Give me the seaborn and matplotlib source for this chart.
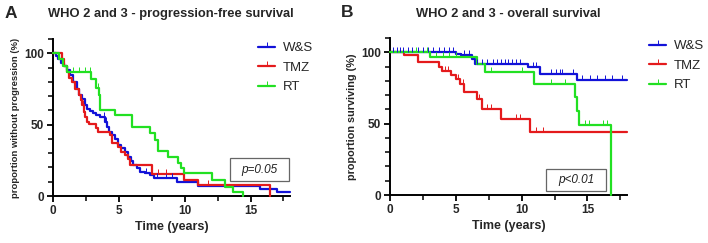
import numpy as np
import pandas as pd
import matplotlib
matplotlib.use("Agg")
import matplotlib.pyplot as plt
import seaborn as sns
from matplotlib.ticker import MultipleLocator
from matplotlib.lines import Line2D

groups = ["W&S", "TMZ", "RT"]
colori = {"W&S": "#1212d8", "TMZ": "#e41a1c", "RT": "#22e022"}

# progression-free survival, step start times (years) and levels (%)
pfs_ws_t = [0, 0.2, 0.4, 0.6, 0.8, 1.05, 1.3, 1.55, 1.8, 2.0, 2.2, 2.4, 2.55, 2.8, 3.05, 3.3,
            3.55, 3.95, 4.1, 4.25, 4.5, 4.7, 4.95, 5.2, 5.45, 5.7, 5.9, 6.1, 6.35, 6.6, 7.0,
            7.4, 7.7, 9.4, 11.0, 15.7, 17.0, 18]
pfs_ws_s = [100, 98, 96, 93.5, 91, 88, 85, 80, 75, 71, 68, 64, 61, 59.5, 58, 56.5,
            55.5, 52, 48, 45, 42.5, 40, 36, 33.5, 31, 27.5, 24.5, 22, 19.5, 17, 16,
            15, 12.5, 10, 7.2, 5, 2.5, 2.5]
pfs_tmz_t = [0, 0.65, 0.85, 1.05, 1.25, 1.45, 1.7, 1.95, 2.1, 2.2, 2.35, 2.45, 2.6, 2.7, 3.3,
             3.45, 4.3, 4.5, 4.97, 5.2, 5.5, 5.72, 5.85, 7.54, 9.97, 11.0, 16.5]
pfs_tmz_s = [100, 96, 91, 87, 83, 80, 75, 70.5, 67, 63.5, 59, 55.5, 52, 50.5, 47.3,
             45, 42.7, 36.8, 34, 31, 28.5, 26, 21.5, 15.5, 11.2, 8, 0]
pfs_rt_t = [0, 0.45, 0.75, 1.05, 2.9, 3.3, 3.5, 3.6, 4.7, 6.0, 7.4, 7.75, 7.95, 8.7, 9.5,
            9.7, 9.95, 12.1, 13.05, 13.7, 14.4]
pfs_rt_s = [100, 96, 91, 87, 82, 76, 70.5, 60, 56.5, 48, 44, 39, 31.5, 27, 23,
            19.5, 16, 11, 6.5, 3, 0]

pfs_ws_cens = [3.9, 4.05, 7.1, 7.9, 8.6, 9.0]
pfs_tmz_cens = [2.3, 8.0, 8.6, 11.8]
pfs_rt_cens = [1.5, 2.0, 2.4, 2.8, 3.45]

# overall survival
os_ws_t = [0, 5.05, 5.4, 6.2, 6.45, 10.5, 11.4, 14.2, 18]
os_ws_s = [100, 99, 98, 95.5, 92, 89.5, 85, 80.5, 80.5]
os_tmz_t = [0, 1.1, 2.1, 3.75, 3.95, 4.65, 5.0, 5.35, 5.65, 6.6, 7.0, 8.4, 10.65, 18]
os_tmz_s = [100, 98, 93.5, 90, 87, 84, 81, 77.5, 72, 67, 60, 53, 44, 44]
os_rt_t = [0, 3.05, 6.6, 7.2, 10.95, 14.05, 14.2, 14.35, 16.8]
os_rt_s = [100, 97, 92, 86, 78, 69, 59, 49, 0]

os_ws_cens = [0.2, 0.5, 0.8, 1.0, 1.4, 1.7, 2.1, 2.5, 2.9, 3.3, 3.7, 4.1, 4.5, 4.8, 5.6, 6.0,
              6.6, 7.0, 7.4, 7.8, 8.1, 8.4, 8.7, 9.0, 9.3, 9.6, 9.9, 10.9, 11.1,
              12.2, 12.6, 12.9, 13.1, 13.9, 14.6, 15.2, 15.7, 16.3, 16.9, 17.6]
os_tmz_cens = [4.2, 4.4, 5.2, 5.55, 6.8, 7.4, 7.7, 9.6, 9.85, 11.1, 11.6]
os_rt_cens = [2.0, 2.8, 3.5, 4.0, 4.5, 5.0, 7.7, 10.0, 12.2, 13.3, 14.8, 15.1, 16.2, 16.5]


def tabella(tt, ss):
    righe = []
    for g, t, s in zip(groups, tt, ss):
        righe.append(pd.DataFrame({"time": t, "surv": s, "group": g}))
    return pd.concat(righe, ignore_index=True)


def livello(t, s, c):
    idx = np.searchsorted(np.array(t), np.array(c), side="right") - 1
    return np.array(s)[idx]


sns.set_theme(style="ticks")
plt.rcParams["font.family"] = ["Liberation Sans", "DejaVu Sans"]

fig = plt.figure(figsize=(7.08, 2.43), dpi=100)
axA = fig.add_axes([0.0749, 0.1934, 0.3347, 0.6461])
axB = fig.add_axes([0.5508, 0.1975, 0.3347, 0.6461])

pannelli = [
    (axA, [pfs_ws_t, pfs_tmz_t, pfs_rt_t], [pfs_ws_s, pfs_tmz_s, pfs_rt_s],
     [pfs_ws_cens, pfs_tmz_cens, pfs_rt_cens], "proportion without progression (%)", 6.8,
     "p=0.05", (230, 158, 289, 181), (258 / 708, 1 - 42 / 243)),
    (axB, [os_ws_t, os_tmz_t, os_rt_t], [os_ws_s, os_tmz_s, os_rt_s],
     [os_ws_cens, os_tmz_cens, os_rt_cens], "proportion surviving (%)", 7.8,
     "p<0.01", (546, 169, 606, 191), (649 / 708, 1 - 40 / 243)),
]

for ax, tt, ss, cc, ylab, yfs, ptxt, box, legpos in pannelli:
    df = tabella(tt, ss)
    sns.lineplot(data=df, x="time", y="surv", hue="group", palette=colori,
                 estimator=None, sort=False, drawstyle="steps-post",
                 linewidth=1.6, legend=False, ax=ax, clip_on=False, zorder=3)
    # censored observations as small upward ticks
    for g, t, s, c in zip(groups, tt, ss, cc):
        ax.plot(c, livello(t, s, c), linestyle="none", marker=2, markersize=3.5,
                markeredgewidth=0.7, color=colori[g], zorder=3)
    ax.set_xlim(0, 18)
    ax.set_ylim(0, 110)
    ax.xaxis.set_major_locator(MultipleLocator(5))
    ax.xaxis.set_minor_locator(MultipleLocator(2.5))
    ax.set_yticks([0, 50, 100])
    ax.set_yticks([10, 20, 30, 40, 60, 70, 80, 90, 110], minor=True)
    sns.despine(ax=ax)
    for sp in ["left", "bottom"]:
        ax.spines[sp].set_linewidth(1.4)
        ax.spines[sp].set_color("black")
    ax.tick_params(which="major", length=4.5, width=1.3, color="black", pad=2,
                   labelsize=8.5)
    ax.tick_params(which="minor", length=3.5, width=1.1, color="black")
    for lab in ax.get_xticklabels() + ax.get_yticklabels():
        lab.set_fontweight("bold")
    ax.set_xlabel("Time (years)", fontsize=9, fontweight="bold", labelpad=3)
    ax.set_ylabel(ylab, fontsize=yfs, fontweight="bold", labelpad=3)

    # p-value box in pixel coordinates of the figure
    x0, y0, x1, y1 = box
    fig.text((x0 + x1) / 2 / 708, 1 - (y0 + y1) / 2 / 243, ptxt, ha="center", va="center",
             fontsize=8.5, style="italic", color="#222222")
    fig.patches.append(plt.Rectangle((x0 / 708, 1 - y1 / 243), (x1 - x0) / 708, (y1 - y0) / 243,
                                     transform=fig.transFigure, fill=False,
                                     edgecolor="#666666", linewidth=0.9))

    maniglie = [Line2D([0], [0], color=colori[g], linewidth=1.6, marker=2,
                       markersize=3.5, markeredgewidth=0.7) for g in groups]
    fig.legend(maniglie, groups, loc="upper left", bbox_to_anchor=legpos,
               frameon=False, fontsize=9.5, handlelength=1.3, handletextpad=0.6,
               labelspacing=0.55, borderaxespad=0, borderpad=0)

fig.text(171 / 708, 1 - 17 / 243, "WHO 2 and 3 - progression-free survival", ha="center",
         va="baseline", fontsize=9.3, fontweight="bold")
fig.text(508 / 708, 1 - 17 / 243, "WHO 2 and 3 - overall survival", ha="center",
         va="baseline", fontsize=9.3, fontweight="bold")
fig.text(5 / 708, 1 - 18.5 / 243, "A", ha="left", va="baseline", fontsize=12.5,
         fontweight="bold")
fig.text(341 / 708, 1 - 17 / 243, "B", ha="left", va="baseline", fontsize=12.5,
         fontweight="bold")

fig.savefig("out.png", dpi=100)
